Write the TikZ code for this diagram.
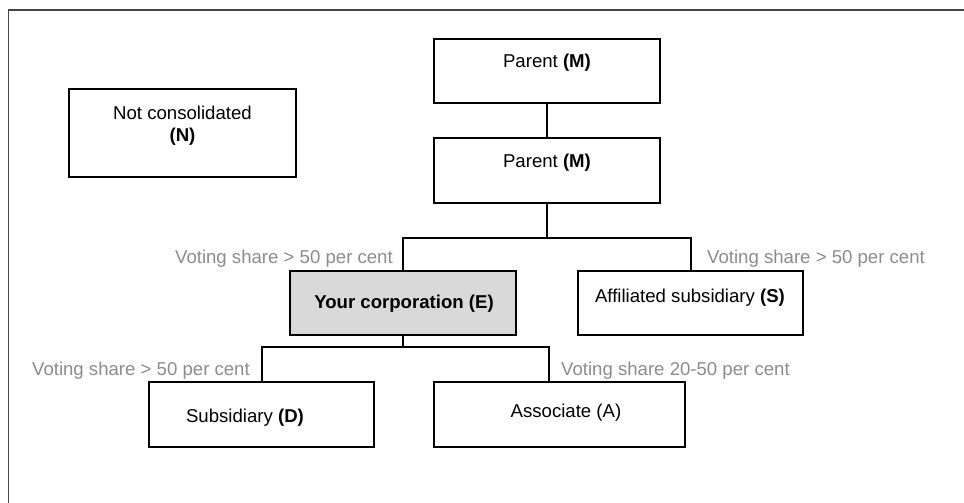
\documentclass[tikz,border=0pt]{standalone}
\usepackage{fontspec}
\setmainfont{Liberation Sans}
\definecolor{labelgray}{RGB}{140,140,140}
\definecolor{framegray}{RGB}{70,70,70}
\definecolor{corpfill}{RGB}{217,217,217}
\begin{document}
\begin{tikzpicture}[x=1pt,y=-1pt,
  box/.style={draw=black,line width=2pt,minimum width=#1,inner sep=0pt,outer sep=0pt},
  box/.default=226pt,
  txt/.style={inner sep=0pt,anchor=base,font=\fontsize{18.6}{22.5}\selectfont},
  share/.style={inner sep=0pt,text=labelgray,font=\fontsize{18.6}{22.5}\selectfont},
  link/.style={line width=2pt,black}]
\useasboundingbox (0,0) rectangle (964,503);
% outer frame (left and top edges)
\draw[framegray,line width=1.8pt] (8.5,503) -- (8.5,10) -- (964,10);

% boxes
\node[box, minimum height=64pt] (pm1) at (547,71) {};
\node[box, minimum height=65pt] (pm2) at (547,170.5) {};
\node[box=227pt, minimum height=88pt] (n) at (182.5,133) {};
\node[box, minimum height=64pt, fill=corpfill] (e) at (403,303) {};
\node[box=225pt, minimum height=64pt] (s) at (690.5,303) {};
\node[box=225pt, minimum height=65pt] (d) at (261.5,414.5) {};
\node[box=251pt, minimum height=65pt] (a) at (559.5,414.5) {};

% box texts
\node[txt] (tpm1) at (547,68) {Parent \textbf{(M)}};
\node[txt] (tpm2) at (547,167) {Parent \textbf{(M)}};
\node[txt, anchor=north, align=center] (tn) at (182.5,105.5) {Not consolidated\\\textbf{(N)}};
\node[txt] (te) at (404,308) {\textbf{Your corporation (E)}};
\node[txt] (ts) at (690,302) {Affiliated subsidiary \textbf{(S)}};
\node[txt] (td) at (245,422) {Subsidiary \textbf{(D)}};
\node[txt] (ta) at (566,417) {Associate (A)};

% junctions
\coordinate (j1) at (547,238);
\coordinate (j2) at (403,347);
\coordinate (atop) at (549,382);

% connectors
\draw[link] (pm1.south) -- (pm2.north);
\draw[link] (pm2.south) -- (j1);
\draw[link] (e.north) |- (j1) -| (s.north);
\draw[link] (e.south) -- (j2);
\draw[link] (d.north) |- (j2) -| (atop);

% ownership labels
\node[share, anchor=base east] (l1) at (393,263) {Voting share > 50 per cent};
\node[share, anchor=base west] (l2) at (707,263) {Voting share > 50 per cent};
\node[share, anchor=base east] (l3) at (250,375) {Voting share > 50 per cent};
\node[share, anchor=base west] (l4) at (561,375) {Voting share 20-50 per cent};
\end{tikzpicture}
\end{document}
